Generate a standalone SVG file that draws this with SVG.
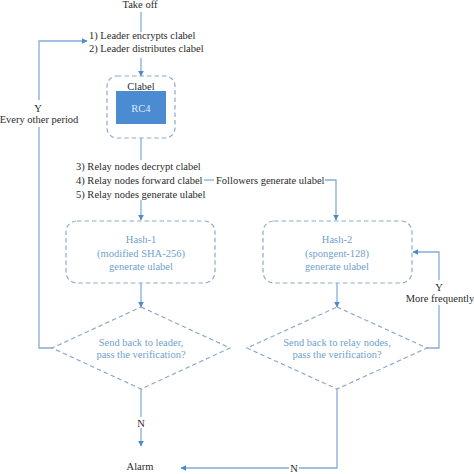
<svg xmlns="http://www.w3.org/2000/svg" width="474" height="474" viewBox="0 0 474 474">
<style>
.t{font-family:"Liberation Serif","Times New Roman",serif;font-size:10.5px;fill:#2b2b2b}
.b{font-family:"Liberation Serif","Times New Roman",serif;font-size:10.5px;fill:#6f9fcf;text-anchor:middle}
.c{text-anchor:middle}
.dash{fill:none;stroke:#8eabca;stroke-width:1.2;stroke-dasharray:4.5 3}
.ln{fill:none;stroke:#86acd6;stroke-width:1.3}
</style>
<defs>
<marker id="ah" viewBox="0 0 10 10" refX="9" refY="5" markerWidth="6" markerHeight="6" markerUnits="userSpaceOnUse" orient="auto">
<path d="M0,0 L10,5 L0,10 z" fill="#4f8acb"/>
</marker>
</defs>
<rect width="474" height="474" fill="#ffffff"/>

<g id="takeoff"><text class="t c" x="140" y="8">Take off</text></g>
<g id="leader">
<text class="t" x="89" y="39">1) Leader encrypts clabel</text>
<text class="t" x="89" y="52">2) Leader distributes clabel</text>
</g>
<g id="clabel">
<rect class="dash" x="107" y="76" width="68" height="62" rx="10"/>
<text class="t c" x="141" y="90">Clabel</text>
<rect x="116" y="91" width="50" height="33" fill="#4a8bd2"/>
<text class="c" x="141" y="112" style="font-family:'Liberation Serif',serif;font-size:10.5px;fill:#dbe9f8">RC4</text>
</g>
<g id="relay">
<text class="t" x="76" y="170">3) Relay nodes decrypt clabel</text>
<text class="t" x="76" y="184">4) Relay nodes forward clabel</text>
<text class="t" x="76" y="198">5) Relay nodes generate ulabel</text>
</g>
<g id="followers"><text class="t" x="216" y="184">Followers generate ulabel</text></g>
<g id="hash1">
<rect class="dash" x="66" y="221" width="149" height="62" rx="11"/>
<text class="b" x="141" y="243">Hash-1</text>
<text class="b" x="141" y="257">(modified SHA-256)</text>
<text class="b" x="141" y="270">generate ulabel</text>
</g>
<g id="hash2">
<rect class="dash" x="263" y="221" width="149" height="62" rx="11"/>
<text class="b" x="337" y="243">Hash-2</text>
<text class="b" x="337" y="257">(spongent-128)</text>
<text class="b" x="337" y="270">generate ulabel</text>
</g>
<g id="dec1">
<polygon class="dash" points="141,307 230,348 141,389 52,348"/>
<text class="b" x="141" y="346">Send back to leader,</text>
<text class="b" x="141" y="358">pass the verification?</text>
</g>
<g id="dec2">
<polygon class="dash" points="337,307 427,348 337,389 247,348"/>
<text class="b" x="337" y="346">Send back to relay nodes,</text>
<text class="b" x="337" y="358">pass the verification?</text>
</g>
<g id="alarm"><text class="t c" x="140" y="470">Alarm</text></g>

<g id="connectors">
<line class="ln" x1="141" y1="12" x2="141" y2="32"/>
<line class="ln" x1="141" y1="58" x2="141" y2="76" marker-end="url(#ah)"/>
<line class="ln" x1="141" y1="138" x2="141" y2="160"/>
<line class="ln" x1="141" y1="200" x2="141" y2="220" marker-end="url(#ah)"/>
<line class="ln" x1="204" y1="180" x2="214" y2="180"/>
<polyline class="ln" points="325,180 336,180 336,220" marker-end="url(#ah)"/>
<line class="ln" x1="141" y1="283" x2="141" y2="307" marker-end="url(#ah)"/>
<line class="ln" x1="337" y1="283" x2="337" y2="307" marker-end="url(#ah)"/>
<polyline class="ln" points="52,348 39,348 39,127"/>
<polyline class="ln" points="39,100 39,41 87,41" marker-end="url(#ah)"/>
<text class="t c" x="38" y="112">Y</text>
<text class="t c" x="39" y="123">Every other period</text>
<polyline class="ln" points="427,348 439,348 439,305"/>
<polyline class="ln" points="439,280 439,252 413,252" marker-end="url(#ah)"/>
<text class="t c" x="439" y="291">Y</text>
<text class="t c" x="440" y="302">More frequently</text>
<line class="ln" x1="141" y1="389" x2="141" y2="417"/>
<line class="ln" x1="141" y1="428" x2="141" y2="446" marker-end="url(#ah)"/>
<text class="t c" x="141" y="427">N</text>
<polyline class="ln" points="337,389 337,468 299,468"/>
<line class="ln" x1="289" y1="468" x2="181" y2="468" marker-end="url(#ah)"/>
<text class="t c" x="294" y="472">N</text>
</g>
</svg>
